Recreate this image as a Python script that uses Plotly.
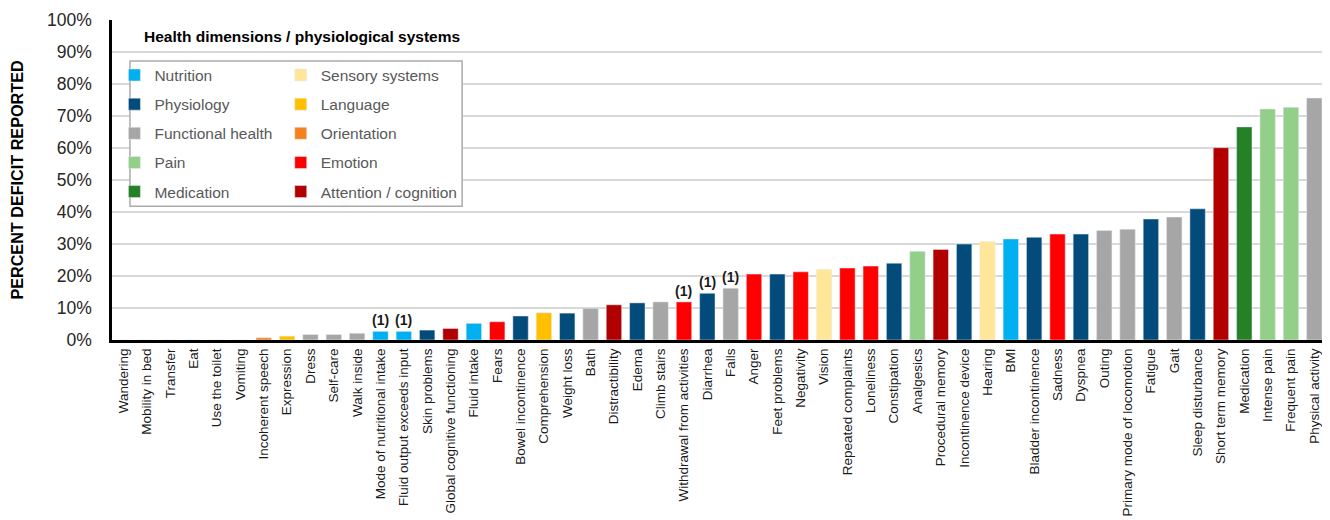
import plotly.graph_objects as go

categories = [
    "Wandering", "Mobility in bed", "Transfer", "Eat", "Use the toilet", "Vomiting",
    "Incoherent speech", "Expression", "Dress", "Self-care", "Walk inside",
    "Mode of nutritional intake", "Fluid output exceeds input", "Skin problems",
    "Global cognitive functioning", "Fluid intake", "Fears", "Bowel incontinence",
    "Comprehension", "Weight loss", "Bath", "Distractibility", "Edema", "Climb stairs",
    "Withdrawal from activities", "Diarrhea", "Falls", "Anger", "Feet problems",
    "Negativity", "Vision", "Repeated complaints", "Loneliness", "Constipation",
    "Analgesics", "Procedural memory", "Incontinence device", "Hearing", "BMI",
    "Bladder incontinence", "Sadness", "Dyspnea", "Outing",
    "Primary mode of locomotion", "Fatigue", "Gait", "Sleep disturbance",
    "Short term memory", "Medication", "Intense pain", "Frequent pain",
    "Physical activity",
]

values = [
    0, 0, 0, 0, 0, 0,
    0.7, 1.2, 1.7, 1.7, 2.1,
    2.7, 2.7, 3.1,
    3.6, 5.2, 5.7, 7.5,
    8.5, 8.4, 9.9, 11.0, 11.6, 11.9,
    11.9, 14.6, 16.2, 20.6, 20.6,
    21.3, 22.1, 22.5, 23.1, 24.0,
    27.7, 28.3, 30.0, 30.8, 31.6,
    32.1, 33.1, 33.1, 34.2,
    34.6, 37.8, 38.4, 41.0,
    60.1, 66.6, 72.2, 72.7,
    75.6,
]

groups = [
    "Attention / cognition", "Functional health", "Functional health", "Functional health",
    "Functional health", "Physiology",
    "Orientation", "Language", "Functional health", "Functional health", "Functional health",
    "Nutrition", "Nutrition", "Physiology",
    "Attention / cognition", "Nutrition", "Emotion", "Physiology",
    "Language", "Physiology", "Functional health", "Attention / cognition", "Physiology",
    "Functional health",
    "Emotion", "Physiology", "Functional health", "Emotion", "Physiology",
    "Emotion", "Sensory systems", "Emotion", "Emotion", "Physiology",
    "Pain", "Attention / cognition", "Physiology", "Sensory systems", "Nutrition",
    "Physiology", "Emotion", "Physiology", "Functional health",
    "Functional health", "Physiology", "Functional health", "Physiology",
    "Attention / cognition", "Medication", "Pain", "Pain",
    "Functional health",
]

footnote_categories = [
    "Mode of nutritional intake", "Fluid output exceeds input",
    "Withdrawal from activities", "Diarrhea", "Falls",
]
footnote_text = "(1)"

legend_col1 = ["Nutrition", "Physiology", "Functional health", "Pain", "Medication"]
legend_col2 = ["Sensory systems", "Language", "Orientation", "Emotion", "Attention / cognition"]

group_colors = {
    "Nutrition": "#00B0F0",
    "Physiology": "#034B7B",
    "Functional health": "#A6A6A6",
    "Pain": "#94CF8A",
    "Medication": "#268026",
    "Sensory systems": "#FFE699",
    "Language": "#FFC000",
    "Orientation": "#F5821F",
    "Emotion": "#FF0000",
    "Attention / cognition": "#B20000",
}

FONT = "Liberation Sans, Arial, sans-serif"

fig = go.Figure()
for legend_name, names in (("legend", legend_col1), ("legend2", legend_col2)):
    for g in names:
        xs = [c for c, gg in zip(categories, groups) if gg == g]
        ys = [v for v, gg in zip(values, groups) if gg == g]
        fig.add_trace(go.Bar(
            x=xs, y=ys, name=g, marker_color=group_colors[g],
            width=0.66, legend=legend_name, legendgroup=g,
            hovertemplate="%{x}: %{y:.1f}%<extra>" + g + "</extra>",
        ))

for c in footnote_categories:
    v = values[categories.index(c)]
    fig.add_annotation(
        x=c, y=v, text="<b>" + footnote_text + "</b>", showarrow=False,
        yanchor="bottom", yshift=1, font=dict(family=FONT, size=14, color="#1a1a1a"),
    )

# plot area in the page: x 112..1326, y 20..340 (page has an 8px body margin)
fig.add_annotation(
    xref="paper", yref="paper", x=0.025, y=0.947, xanchor="left", yanchor="middle",
    text="<b>Health dimensions / physiological systems</b>", showarrow=False,
    font=dict(family=FONT, size=15.5, color="#000000"),
)
fig.add_shape(
    type="rect", xref="paper", yref="paper",
    x0=0.0148, x1=0.2884, y0=0.4178, y1=0.8717,
    line=dict(color="#ABABAB", width=1.5), fillcolor="white", layer="above",
)

legend_common = dict(
    bgcolor="rgba(0,0,0,0)", borderwidth=0,
    font=dict(family=FONT, size=15.5, color="#595959"),
    yanchor="top", xanchor="left", orientation="v",
    tracegroupgap=6, itemclick=False, itemdoubleclick=False,
)

fig.update_layout(
    width=1322, height=512,
    margin=dict(l=104, r=4, t=12, b=180),
    paper_bgcolor="white", plot_bgcolor="white",
    barmode="overlay",
    font=dict(family=FONT, color="#1a1a1a"),
    showlegend=True,
    legend=dict(x=0.002, y=0.88, **legend_common),
    legend2=dict(x=0.139, y=0.88, **legend_common),
    xaxis=dict(
        type="category", categoryorder="array", categoryarray=categories,
        tickangle=-90, tickfont=dict(family=FONT, size=13.5, color="#1a1a1a"),
        showline=True, linecolor="#000000", linewidth=3, automargin=False,
        ticks="", showgrid=False, range=[-0.5, len(categories) - 0.5],
    ),
    yaxis=dict(
        range=[0, 100], dtick=10, ticksuffix="%", automargin=False,
        tickfont=dict(family=FONT, size=17.5, color="#262626"),
        showgrid=True, gridcolor="#D9D9D9", gridwidth=1.5,
        showline=True, linecolor="#000000", linewidth=2.5,
        ticks="", ticklabelstandoff=14, zeroline=False,
        title=dict(text="<b>PERCENT DEFICIT REPORTED</b>",
                   font=dict(family=FONT, size=16.2, color="#000000"), standoff=20),
    ),
)

fig.write_html("out.html")
